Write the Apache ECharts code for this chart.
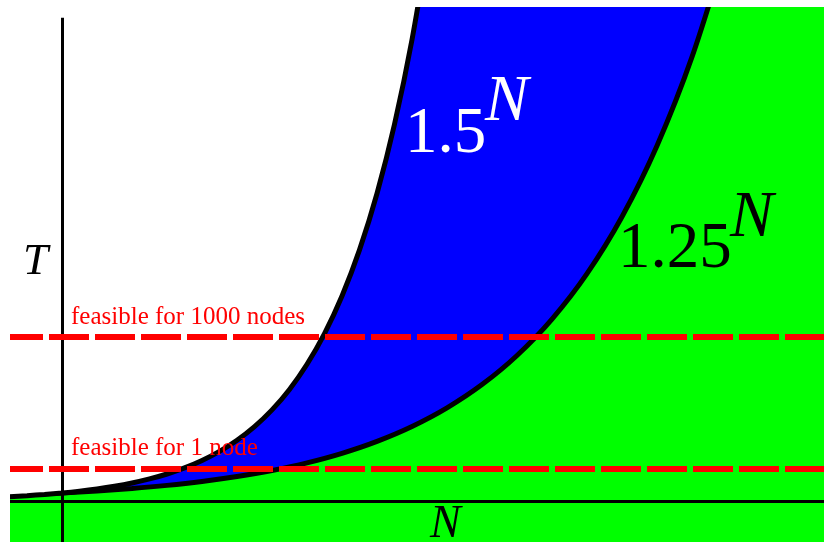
<!DOCTYPE html>
<html>
<head>
<meta charset="utf-8">
<script src="https://cdn.jsdelivr.net/npm/echarts@6/dist/echarts.min.js"></script>
<style>
  html, body { margin: 0; padding: 0; background: #fff; }
  #chart { width: 824px; height: 542px; }
</style>
</head>
<body>
<div id="chart"></div>
<script>
// Exponential growth regions — 1.5^N vs 1.25^N, with feasibility thresholds

// 1.5^N curve (T in plot units)
const N_FAST = [-2, -1.5, -1, -0.5, 0, 0.5, 1, 1.5, 2, 2.5, 3, 3.5, 4, 4.5, 5, 5.5, 6, 6.5, 7, 7.5, 8, 8.5, 9, 9.5, 10, 10.5];
const T_FAST = [0.444, 0.544, 0.667, 0.816, 1, 1.225, 1.5, 1.837, 2.25, 2.756, 3.375, 4.134, 5.063, 6.2, 7.594, 9.301, 11.39, 13.95, 17.09, 20.93, 25.63, 31.39, 38.44, 47.09, 57.67, 70.64];

// 1.25^N curve
const N_SLOW = [-2, -1.5, -1, 0, 1, 2, 3, 4, 5, 6, 7, 8, 9, 10, 11, 12, 13, 14, 15, 16, 17, 18, 19];
const T_SLOW = [0.64, 0.716, 0.8, 1, 1.25, 1.563, 1.953, 2.441, 3.052, 3.815, 4.768, 5.96, 7.451, 9.313, 11.64, 14.55, 18.19, 22.74, 28.42, 35.53, 44.41, 55.51, 69.39];

// feasibility thresholds
const LEVEL_VALUES = [20.5, 4.06];
const LEVEL_LABELS = ['feasible for 1000 nodes', 'feasible for 1 node'];

// axis extents
const X_RANGE = [-1.486, 21.771];
const Y_RANGE = [-5.125, 61.75];
const T_AXIS_TOP = 60.4;

const SERIF = '"Liberation Serif", "Times New Roman", serif';

function pairs(xs, ys) {
  return xs.map((x, i) => [x, ys[i]]);
}

function curveSeries(name, xs, ys, fill, z) {
  return {
    name,
    type: 'line',
    data: pairs(xs, ys),
    smooth: 0.3,
    showSymbol: false,
    symbol: 'none',
    clip: true,
    z,
    lineStyle: { color: '#000', width: 5 },
    areaStyle: { color: fill, opacity: 1, origin: 'end' },
    silent: true,
  };
}

function guideSeries() {
  const axes = [
    [{ coord: [X_RANGE[0], 0] }, { coord: [X_RANGE[1], 0] }],
    [{ coord: [0, T_AXIS_TOP] }, { coord: [0, Y_RANGE[0]] }],
  ].map(seg => {
    seg[0].lineStyle = { color: '#000', width: 3, type: 'solid' };
    return seg;
  });
  const levels = LEVEL_VALUES.map(v => [
    { coord: [X_RANGE[0], v], lineStyle: { color: '#ff0000', width: 6, type: [40, 6], dashOffset: 7 } },
    { coord: [X_RANGE[1], v] },
  ]);
  return {
    name: 'guides',
    type: 'line',
    data: [],
    z: 5,
    silent: true,
    markLine: {
      silent: true,
      symbol: ['none', 'none'],
      label: { show: false },
      emphasis: { disabled: true },
      animation: false,
      data: axes.concat(levels),
    },
  };
}

function textEl(text, x, y, size, color, italic) {
  return {
    type: 'text',
    x, y,
    z: 10,
    silent: true,
    style: {
      text,
      fill: color,
      font: `${italic ? 'italic ' : ''}${size}px ${SERIF}`,
      align: 'left',
      verticalAlign: 'middle',
    },
  };
}

const chart = echarts.init(document.getElementById('chart'), null, { renderer: 'canvas' });
chart.setOption({
  animation: false,
  backgroundColor: '#fff',
  grid: {
    left: 10, right: 0, top: 7, bottom: 0,
    show: true, backgroundColor: '#00ff00', borderWidth: 0,
  },
  xAxis: {
    type: 'value', min: X_RANGE[0], max: X_RANGE[1],
    axisLine: { show: false }, axisTick: { show: false },
    axisLabel: { show: false }, splitLine: { show: false },
  },
  yAxis: {
    type: 'value', min: Y_RANGE[0], max: Y_RANGE[1],
    axisLine: { show: false }, axisTick: { show: false },
    axisLabel: { show: false }, splitLine: { show: false },
  },
  series: [
    curveSeries('1.25^N', N_SLOW, T_SLOW, '#0000ff', 2),
    curveSeries('1.5^N', N_FAST, T_FAST, '#ffffff', 3),
    guideSeries(),
  ],
  graphic: [
    // white margins outside the plot box (hide clip overshoot of the fills)
    { type: 'rect', z: 9, silent: true, shape: { x: 0, y: 0, width: 824, height: 7 }, style: { fill: '#fff' } },
    { type: 'rect', z: 9, silent: true, shape: { x: 0, y: 0, width: 10, height: 542 }, style: { fill: '#fff' } },
    textEl(LEVEL_LABELS[0], 71, 317.6, 25, '#ff0000', false),
    textEl(LEVEL_LABELS[1], 71, 448.6, 25, '#ff0000', false),
    textEl('1.5', 405, 135, 65, '#ffffff', false),
    textEl('N', 485, 103, 65, '#ffffff', true),
    textEl('1.25', 618, 250, 65, '#000000', false),
    textEl('N', 730, 219, 65, '#000000', true),
    textEl('T', 23, 262, 45, '#000000', true),
    textEl('N', 430, 524.5, 46, '#000000', true),
  ],
});
</script>
</body>
</html>
